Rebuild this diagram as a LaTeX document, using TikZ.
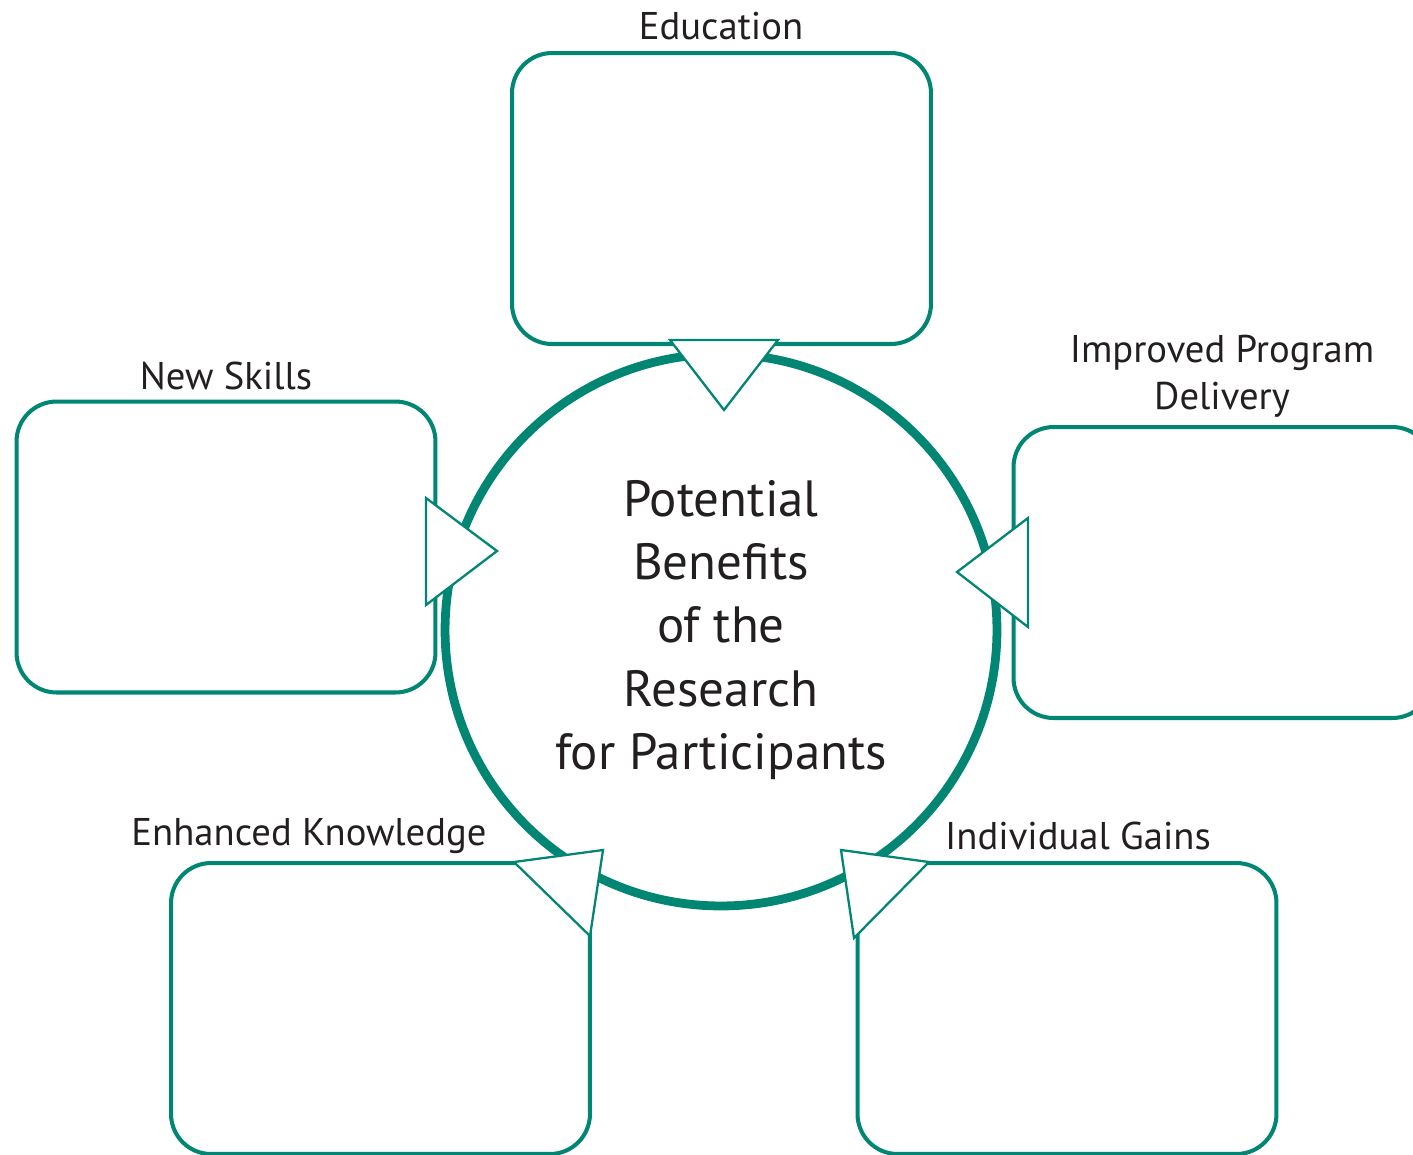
\documentclass[tikz,border=0pt]{standalone}
\usepackage{fontspec}
\setmainfont{PT Sans}
\usepackage{tikz}
\usetikzlibrary{positioning}
\definecolor{teal}{RGB}{0,134,115}
\definecolor{ink}{RGB}{35,31,32}
\tikzset{benefit/.style={draw=teal,line width=2.3pt,rounded corners=0.8cm,
                         minimum width=8.38cm,minimum height=5.82cm}}
\tikzset{caption/.style={text=ink,font=\fontsize{22}{27}\selectfont,align=center}}
\tikzset{pointer/.style={draw=teal,fill=white,line width=1.3pt,line join=miter}}

\begin{document}
\begin{tikzpicture}[x=0.02cm,y=-0.02cm]
  % fixed frame, the right and lower boxes run off its edges
  \useasboundingbox (0,0) rectangle (1413,1154);
  \clip (0,0) rectangle (1413,1154);

  % the five boxes round the circle
  \node (edu)       [benefit] at (721.5,198.5) {};
  \node (skills)    [benefit] at (226,547) {};
  \node (delivery)  [benefit] at (1223,572.5) {};
  \node (knowledge) [benefit] at (380.5,1008.5) {};
  \node (gains)     [benefit] at (1067,1008.5) {};

  % their titles
  \node (edu_t)       [caption] at (721,26) {Education};
  \node (skills_t)    [caption] at (226,376) {New Skills};
  \node (delivery_t)  [caption] at (1222,376) {Improved Program\\Delivery};
  \node (knowledge_t) [caption] at (309,836) {Enhanced Knowledge};
  \node (gains_t)     [caption] at (1078,836) {Individual Gains};

  % the hub
  \node (hub) [circle,draw=teal,line width=5pt,minimum size=11.04cm,
               text=ink,font=\fontsize{29}{36}\selectfont,align=center]
    at (721,630) {Potential\\Benefits\\of the\\Research\\for Participants};

  % triangular pointers from the boxes into the hub
  \draw[pointer] (670,340) -- (778,340) -- (724,410) -- cycle;
  \draw[pointer] (426,498) -- (426,605) -- (497,551) -- cycle;
  \draw[pointer] (1028,518) -- (1028,627) -- (957,572) -- cycle;
  \draw[pointer] (514,862) -- (590,936) -- (603,850) -- cycle;
  \draw[pointer] (929,862) -- (854,938) -- (841,850) -- cycle;
\end{tikzpicture}
\end{document}
